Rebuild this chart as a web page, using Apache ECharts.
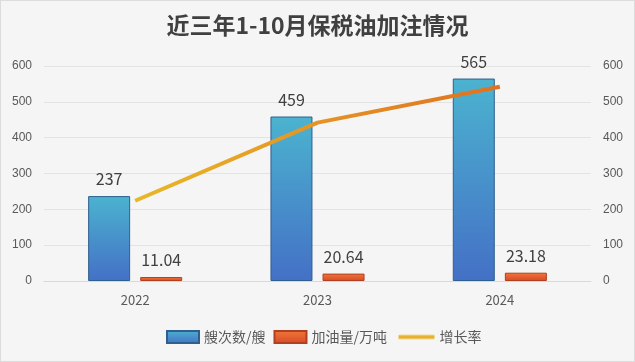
<!DOCTYPE html>
<html><head><meta charset="utf-8">
<script src="https://cdn.jsdelivr.net/npm/echarts@6/dist/echarts.min.js"></script>
<style>html,body{margin:0;padding:0;background:#f5f5f5;}#c{width:635px;height:362px;box-sizing:border-box;border:1px solid #dcdcdc;}</style>
</head><body><div id="c"></div>
<script>
const categories = ['2022', '2023', '2024'];
const shipCounts = [237, 459, 565];
const fuelVolumes = [11.04, 20.64, 23.18];
const growthLine = [224, 442, 542];
const yTicks = [0, 100, 200, 300, 400, 500, 600];

const chart = echarts.init(document.getElementById('c'));
const font = '"Microsoft YaHei","Noto Sans CJK SC",sans-serif';
chart.setOption({
  backgroundColor: '#f5f5f5',
  animation: false,
  title: {
    text: '近三年1-10月保税油加注情况', left: 'center', top: 8,
    textStyle: { fontSize: 23, fontWeight: 'bold', color: '#404040', fontFamily: font }
  },
  legend: [
    { bottom: 12, left: 160, itemWidth: 32, itemHeight: 12, itemGap: 8,
      textStyle: { fontSize: 14, color: '#595959', fontFamily: font },
      data: [ { name: '艘次数/艘', icon: 'rect' }, { name: '加油量/万吨', icon: 'rect' } ] },
    { bottom: 12, left: 392, itemWidth: 36, itemHeight: 4, itemGap: 8,
      textStyle: { fontSize: 14, color: '#595959', fontFamily: font },
      itemStyle: { color: '#e8b030', borderColor: '#f2d890', borderWidth: 1 },
      data: [ { name: '增长率', icon: 'roundRect' } ] }
  ],
  grid: { left: 43, right: 43, top: 65, bottom: 80 },
  xAxis: {
    type: 'category', data: categories,
    axisLine: { lineStyle: { color: '#d9d9d9' } }, axisTick: { show: false },
    axisLabel: { color: '#595959', fontSize: 13, margin: 13, fontFamily: font }
  },
  yAxis: [
    { type: 'value', min: yTicks[0], max: yTicks[yTicks.length - 1], interval: 100,
      axisLabel: { color: '#595959', fontSize: 12, margin: 12 },
      splitLine: { lineStyle: { color: '#e3e3e3' } } },
    { type: 'value', min: yTicks[0], max: yTicks[yTicks.length - 1], interval: 100,
      axisLabel: { color: '#595959', fontSize: 12, margin: 12 },
      splitLine: { show: false } }
  ],
  series: [
    { name: '艘次数/艘', type: 'bar', data: shipCounts, barWidth: 42, barGap: '24%',
      itemStyle: { borderColor: '#2f5f8f', borderWidth: 1,
        color: new echarts.graphic.LinearGradient(0, 0, 0, 1, [
          { offset: 0, color: '#4bb3cf' }, { offset: 1, color: '#4470c6' }]) },
      label: { show: true, position: 'top', distance: 9, fontSize: 16, color: '#404040', fontFamily: font } },
    { name: '加油量/万吨', type: 'bar', data: fuelVolumes, barWidth: 42,
      itemStyle: { borderColor: '#b04020', borderWidth: 1,
        color: new echarts.graphic.LinearGradient(0, 0, 0, 1, [
          { offset: 0, color: '#f07838' }, { offset: 1, color: '#d8482a' }]) },
      label: { show: true, position: 'top', distance: 9, fontSize: 16, color: '#404040', fontFamily: font } },
    { name: '增长率', type: 'line', yAxisIndex: 1, data: growthLine, symbol: 'none',
      lineStyle: { width: 4, color: new echarts.graphic.LinearGradient(0, 0, 1, 0, [
          { offset: 0, color: '#e8b828' }, { offset: 1, color: '#e07020' }]) },
      itemStyle: { color: '#e8a830' } }
  ]
});
</script></body></html>
